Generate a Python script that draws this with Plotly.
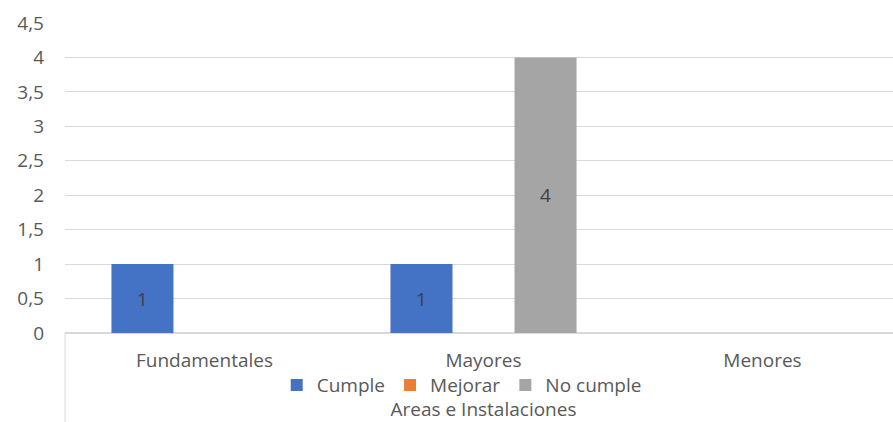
import plotly.graph_objects as go

categories = ["Fundamentales", "Mayores", "Menores"]
series_names = ["Cumple", "Mejorar", "No cumple"]
cumple = [1, 1, 0]
mejorar = [0, 0, 0]
no_cumple = [0, 4, 0]
colors = ["#4472C4", "#ED7D31", "#A5A5A5"]
y_ticks = [0, 0.5, 1, 1.5, 2, 2.5, 3, 3.5, 4, 4.5]

FONT = "Open Sans"
FS = 19
fig = go.Figure()
for name, vals, col in zip(series_names, [cumple, mejorar, no_cumple], colors):
    fig.add_trace(go.Bar(
        x=categories, y=vals, name=name,
        marker=dict(color=col, line=dict(width=0)),
        text=[str(v) if v else "" for v in vals],
        textposition="inside", insidetextanchor="middle",
        textfont=dict(family=FONT, size=FS, color="#404040"),
    ))

fig.update_layout(
    width=902, height=422,
    barmode="group", bargap=0.333, bargroupgap=0,
    separators=",.",
    plot_bgcolor="white", paper_bgcolor="white",
    margin=dict(l=65, r=0, t=23, b=89),
    font=dict(family=FONT, size=FS, color="#595959"),
    showlegend=True,
    legend=dict(orientation="h", x=0.474, xanchor="center", y=-0.168, yanchor="middle",
                font=dict(family=FONT, size=FS, color="#595959"),
                itemwidth=30, tracegroupgap=0, bgcolor="rgba(0,0,0,0)"),
    xaxis=dict(showgrid=False, showline=True, linecolor="#D9D9D9", linewidth=1,
               ticks="", ticklabelstandoff=10,
               tickfont=dict(family=FONT, size=FS, color="#595959"),
               title=dict(text="Areas e Instalaciones", standoff=35,
                          font=dict(family=FONT, size=FS, color="#595959")),
               automargin=False),
    yaxis=dict(range=[0, 4.5], tickvals=y_ticks, showgrid=True, gridcolor="#D9D9D9",
               gridwidth=1, zeroline=True, zerolinecolor="#D9D9D9", showline=False,
               ticklabelstandoff=20,
               tickfont=dict(family=FONT, size=FS, color="#595959"),
               automargin=False),
)
fig.add_shape(type="line", xref="paper", yref="paper", x0=0, x1=0, y0=0, y1=-0.3,
              line=dict(color="#D9D9D9", width=1))
fig.write_html("out.html", config={"displayModeBar": False},
               post_script="document.body.style.margin='0';document.body.style.overflow='hidden';")
